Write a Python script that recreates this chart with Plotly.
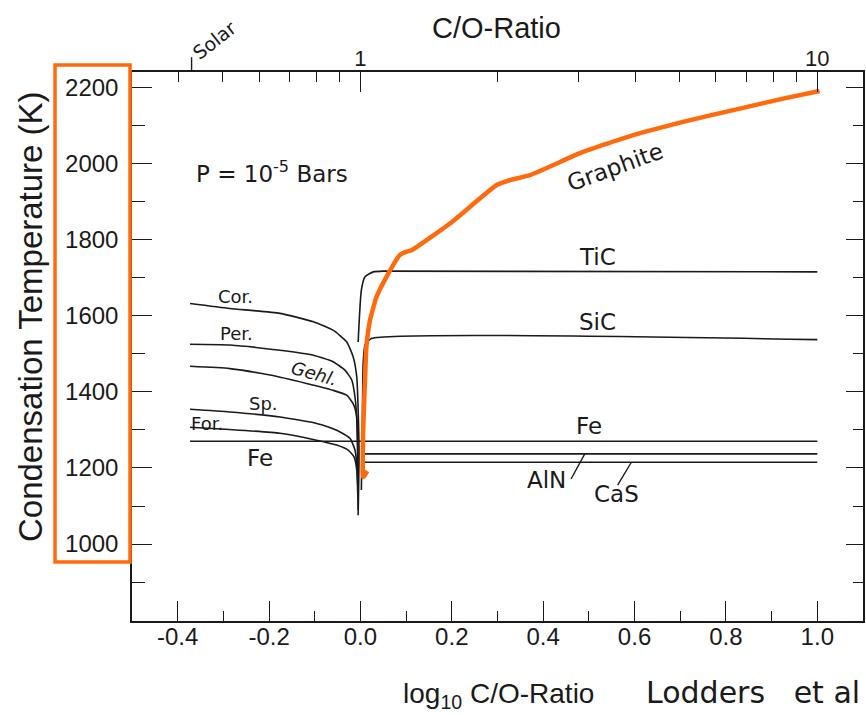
import numpy as np
import plotly.graph_objects as go

# ---- data: x = log10 C/O ratio, y = condensation temperature (K) ----
cor_x = [-0.373, -0.286, -0.176, -0.103, -0.060, -0.030, -0.016, -0.008, -0.005, -0.003, -0.005]
cor_y = [1632, 1619, 1606, 1584, 1562, 1531, 1492, 1439, 1352, 1239, 1076]
per_x = [-0.373, -0.286, -0.176, -0.103, -0.060, -0.034, -0.019, -0.012, -0.008, -0.005]
per_y = [1525, 1523, 1509, 1496, 1479, 1457, 1431, 1387, 1326, 1150]
gehl_x = [-0.373, -0.286, -0.198, -0.118, -0.060, -0.030, -0.016, -0.008, -0.005]
gehl_y = [1467, 1461, 1444, 1422, 1404, 1391, 1369, 1334, 1177]
sp_x = [-0.373, -0.286, -0.176, -0.096, -0.052, -0.023, -0.012, -0.007, -0.005]
sp_y = [1354, 1347, 1334, 1317, 1299, 1278, 1247, 1194, 1116]
for_x = [-0.373, -0.286, -0.176, -0.096, -0.052, -0.027, -0.014, -0.008, -0.005]
for_y = [1307, 1301, 1291, 1273, 1260, 1247, 1229, 1194, 1089]
fe_x = [-0.373, 1.0]
fe_y = [1270, 1270]
tic_x = [-0.005, 0.002, 0.010, 0.028, 0.054, 1.0]
tic_y = [1531, 1667, 1702, 1715, 1717, 1715]
sic_x = [0.002, 0.004, 0.006, 0.010, 0.024, 1.0]
sic_y = [1142, 1299, 1475, 1523, 1540, 1537]
aln_x = [0.008, 1.0]
aln_y = [1237, 1237]
cas_x = [0.008, 1.0]
cas_y = [1215, 1215]
graphite_x = [0.015, 0.006, 0.006, 0.010, 0.013, 0.021, 0.035, 0.057, 0.086, 0.101, 0.112,
              0.196, 0.298, 0.327, 0.371, 0.487, 0.597, 0.706, 0.816, 0.925, 1.005]
graphite_y = [1192, 1176, 1299, 1431, 1518, 1588, 1649, 1702, 1759, 1768, 1772,
              1842, 1943, 1956, 1969, 2030, 2074, 2109, 2140, 2170, 2190]

x_major = [-0.4, -0.2, 0.0, 0.2, 0.4, 0.6, 0.8, 1.0]
y_major = [1000, 1200, 1400, 1600, 1800, 2000, 2200]
co_major = [1, 10]
co_minor = [0.4, 0.5, 0.6, 0.7, 0.8, 0.9, 2, 3, 4, 5, 6, 7, 8, 9]
solar_co = 0.427

X_RANGE = [-0.5, 1.1]
Y_RANGE = [798, 2240]

BLACK = "#1a1a1a"
ORANGE = "#FF6A0D"
LBL = "DejaVu Sans"
AX = "Liberation Sans, Arial, sans-serif"

fig = go.Figure()

def curve(x, y, smooth=True):
    fig.add_trace(go.Scatter(
        x=x, y=y, mode="lines",
        line=dict(color=BLACK, width=1.6, shape="spline" if smooth else "linear", smoothing=0.5),
        hoverinfo="skip", showlegend=False))

curve(cor_x, cor_y)
curve(per_x, per_y)
curve(gehl_x, gehl_y)
curve(sp_x, sp_y)
curve(for_x, for_y)
curve(fe_x, fe_y, False)
curve(tic_x, tic_y)
curve(sic_x, sic_y)
curve(aln_x, aln_y, False)
curve(cas_x, cas_y, False)

fig.add_trace(go.Scatter(
    x=graphite_x, y=graphite_y, mode="lines",
    line=dict(color=ORANGE, width=4.5, shape="spline", smoothing=0.4),
    hoverinfo="skip", showlegend=False))

# trace on secondary axes so that top / right axes are drawn
fig.add_trace(go.Scatter(x=[0.0], y=[1000], xaxis="x2", yaxis="y2", mode="markers",
                         marker=dict(opacity=0), hoverinfo="skip", showlegend=False))

def lab(text, x, y, size=23, angle=0):
    fig.add_annotation(x=x, y=y, xref="x", yref="y", text=text, showarrow=False,
                       xanchor="center", yanchor="middle",
                       textangle=angle, font=dict(family=LBL, size=size, color=BLACK))

lab("Cor.", -0.274, 1651, 18)
lab("Per.", -0.272, 1554, 18)
lab("<i>Gehl.</i>", -0.100, 1449, 18, 16)
lab("Sp.", -0.213, 1370, 18)
lab("For.", -0.336, 1318, 18)
lab("Fe", -0.220, 1226, 23)
lab("TiC", 0.518, 1754, 23)
lab("SiC", 0.518, 1583, 23)
lab("Fe", 0.500, 1310, 23)
lab("AlN", 0.408, 1168, 23)
lab("CaS", 0.561, 1131, 23)
lab("Graphite", 0.557, 1990, 23, -20)
lab("P = 10<sup>-5</sup> Bars", -0.194, 1977, 23)

# leader lines for AlN / CaS
fig.add_shape(type="line", xref="x", yref="y", x0=0.461, y0=1171, x1=0.491, y1=1237,
              line=dict(color=BLACK, width=1.4))
fig.add_shape(type="line", xref="x", yref="y", x0=0.563, y0=1155, x1=0.593, y1=1215,
              line=dict(color=BLACK, width=1.4))

# solar marker on top axis
solar_x = float(np.log10(solar_co))
fig.add_shape(type="line", xref="x", yref="paper", x0=solar_x, x1=solar_x, y0=1.0, y1=1.027,
              line=dict(color=BLACK, width=1.4))
fig.add_annotation(x=solar_x + 0.050, y=1.058, xref="x", yref="paper", text="Solar",
                   showarrow=False, textangle=-38, xanchor="center", yanchor="middle",
                   font=dict(family=LBL, size=19, color=BLACK))

def paper_text(text, x, y, size, family=AX, angle=0, xanchor="center"):
    fig.add_annotation(x=x, y=y, xref="paper", yref="paper", text=text, showarrow=False,
                       textangle=angle, xanchor=xanchor, yanchor="middle",
                       font=dict(family=family, size=size, color=BLACK))

paper_text("C/O-Ratio", 0.4993, 1.080, 29)
paper_text("log<sub>10</sub> C/O-Ratio", 0.5007, -0.135, 28)
paper_text("Lodders&nbsp;&nbsp; et al", 0.7005, -0.131, 30, family=LBL, xanchor="left")
paper_text("Condensation Temperature (K)", -0.1395, 0.5537, 33, angle=-90)

# orange highlight box around y tick labels
fig.add_shape(type="rect", xref="paper", yref="paper", x0=-0.1053, x1=-0.0027,
              y0=0.1075, y1=1.0128, line=dict(color=ORANGE, width=3.5))

axis_common = dict(showgrid=False, zeroline=False, showline=True, linecolor=BLACK,
                   linewidth=1.5, ticks="inside", tickcolor=BLACK, tickwidth=1.4)

fig.update_layout(
    width=866, height=715,
    margin=dict(l=132, r=3, t=72, b=94),
    paper_bgcolor="white", plot_bgcolor="white",
    xaxis=dict(range=X_RANGE, tickmode="array", tickvals=x_major,
               ticktext=[f"{v:.1f}" for v in x_major], ticklen=20,
               minor=dict(dtick=0.1, tick0=0, ticklen=10, ticks="inside",
                          tickcolor=BLACK, tickwidth=1.3),
               tickfont=dict(family=AX, size=24, color=BLACK), ticklabelstandoff=-7,
               **axis_common),
    xaxis2=dict(range=X_RANGE, overlaying="x", side="top", anchor="y2",
                tickmode="array", tickvals=[float(np.log10(v)) for v in co_major],
                ticktext=[str(v) for v in co_major], ticklen=20,
                minor=dict(tickmode="array", tickvals=[float(np.log10(v)) for v in co_minor],
                           ticklen=10, ticks="inside", tickcolor=BLACK, tickwidth=1.3),
                tickfont=dict(family=AX, size=22, color=BLACK), ticklabelstandoff=-5,
                **axis_common),
    yaxis=dict(range=Y_RANGE, tickmode="array", tickvals=y_major,
               ticktext=[str(v) for v in y_major], ticklen=20,
               minor=dict(dtick=100, tick0=0, ticklen=13, ticks="inside",
                          tickcolor=BLACK, tickwidth=1.3),
               tickfont=dict(family=AX, size=24, color=BLACK), ticklabelstandoff=7,
               **axis_common),
    yaxis2=dict(range=Y_RANGE, overlaying="y", side="right", anchor="x",
                tickmode="array", tickvals=y_major, showticklabels=False, ticklen=17,
                minor=dict(dtick=100, tick0=0, ticklen=10, ticks="inside",
                           tickcolor=BLACK, tickwidth=1.3),
                **axis_common),
)

fig.write_html("out.html", config={"displayModeBar": False},
               post_script="document.body.style.margin='0px';")
